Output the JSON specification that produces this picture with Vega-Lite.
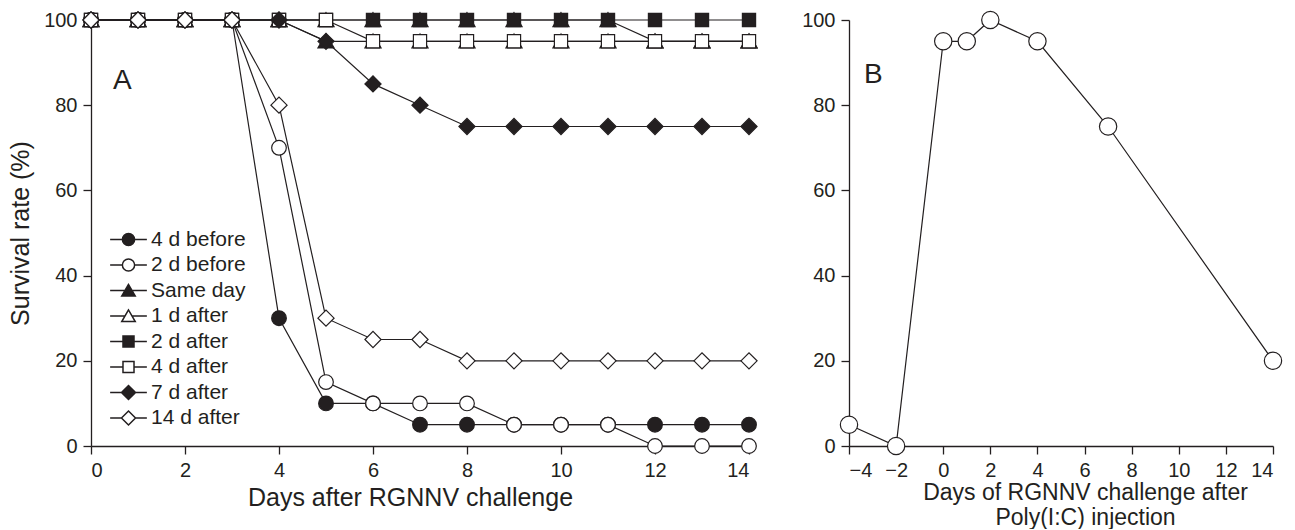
{
  "$schema": "https://vega.github.io/schema/vega-lite/v6.json",
  "background": "white",
  "padding": {"left": 8, "top": 8, "right": 5, "bottom": 0},
  "config": {
    "font": "Liberation Sans",
    "view": {"stroke": null},
    "axis": {
      "grid": false,
      "domainColor": "#231f20",
      "domainWidth": 1.3,
      "tickColor": "#231f20",
      "tickWidth": 1.3,
      "tickSize": 8,
      "labelFontSize": 20,
      "labelColor": "#231f20",
      "labelPadding": 6,
      "titleFontSize": 25,
      "titleFontWeight": "normal",
      "titleColor": "#231f20"
    },
    "title": {"fontSize": 28, "fontWeight": "normal", "color": "#231f20", "anchor": "start", "frame": "group", "baseline": "alphabetic", "offset": 0}
  },
  "datasets": {
    "a": [
      {"series": "4 d before", "day": 0, "survival": 100},
      {"series": "4 d before", "day": 1, "survival": 100},
      {"series": "4 d before", "day": 2, "survival": 100},
      {"series": "4 d before", "day": 3, "survival": 100},
      {"series": "4 d before", "day": 4, "survival": 30},
      {"series": "4 d before", "day": 5, "survival": 10},
      {"series": "4 d before", "day": 6, "survival": 10},
      {"series": "4 d before", "day": 7, "survival": 5},
      {"series": "4 d before", "day": 8, "survival": 5},
      {"series": "4 d before", "day": 9, "survival": 5},
      {"series": "4 d before", "day": 10, "survival": 5},
      {"series": "4 d before", "day": 11, "survival": 5},
      {"series": "4 d before", "day": 12, "survival": 5},
      {"series": "4 d before", "day": 13, "survival": 5},
      {"series": "4 d before", "day": 14, "survival": 5},
      {"series": "2 d before", "day": 0, "survival": 100},
      {"series": "2 d before", "day": 1, "survival": 100},
      {"series": "2 d before", "day": 2, "survival": 100},
      {"series": "2 d before", "day": 3, "survival": 100},
      {"series": "2 d before", "day": 4, "survival": 70},
      {"series": "2 d before", "day": 5, "survival": 15},
      {"series": "2 d before", "day": 6, "survival": 10},
      {"series": "2 d before", "day": 7, "survival": 10},
      {"series": "2 d before", "day": 8, "survival": 10},
      {"series": "2 d before", "day": 9, "survival": 5},
      {"series": "2 d before", "day": 10, "survival": 5},
      {"series": "2 d before", "day": 11, "survival": 5},
      {"series": "2 d before", "day": 12, "survival": 0},
      {"series": "2 d before", "day": 13, "survival": 0},
      {"series": "2 d before", "day": 14, "survival": 0},
      {"series": "Same day", "day": 0, "survival": 100},
      {"series": "Same day", "day": 1, "survival": 100},
      {"series": "Same day", "day": 2, "survival": 100},
      {"series": "Same day", "day": 3, "survival": 100},
      {"series": "Same day", "day": 4, "survival": 100},
      {"series": "Same day", "day": 5, "survival": 95},
      {"series": "Same day", "day": 6, "survival": 95},
      {"series": "Same day", "day": 7, "survival": 95},
      {"series": "Same day", "day": 8, "survival": 95},
      {"series": "Same day", "day": 9, "survival": 95},
      {"series": "Same day", "day": 10, "survival": 95},
      {"series": "Same day", "day": 11, "survival": 95},
      {"series": "Same day", "day": 12, "survival": 95},
      {"series": "Same day", "day": 13, "survival": 95},
      {"series": "Same day", "day": 14, "survival": 95},
      {"series": "1 d after", "day": 0, "survival": 100},
      {"series": "1 d after", "day": 1, "survival": 100},
      {"series": "1 d after", "day": 2, "survival": 100},
      {"series": "1 d after", "day": 3, "survival": 100},
      {"series": "1 d after", "day": 4, "survival": 100},
      {"series": "1 d after", "day": 5, "survival": 100},
      {"series": "1 d after", "day": 6, "survival": 100},
      {"series": "1 d after", "day": 7, "survival": 100},
      {"series": "1 d after", "day": 8, "survival": 100},
      {"series": "1 d after", "day": 9, "survival": 100},
      {"series": "1 d after", "day": 10, "survival": 100},
      {"series": "1 d after", "day": 11, "survival": 100},
      {"series": "1 d after", "day": 12, "survival": 95},
      {"series": "1 d after", "day": 13, "survival": 95},
      {"series": "1 d after", "day": 14, "survival": 95},
      {"series": "2 d after", "day": 0, "survival": 100},
      {"series": "2 d after", "day": 1, "survival": 100},
      {"series": "2 d after", "day": 2, "survival": 100},
      {"series": "2 d after", "day": 3, "survival": 100},
      {"series": "2 d after", "day": 4, "survival": 100},
      {"series": "2 d after", "day": 5, "survival": 100},
      {"series": "2 d after", "day": 6, "survival": 100},
      {"series": "2 d after", "day": 7, "survival": 100},
      {"series": "2 d after", "day": 8, "survival": 100},
      {"series": "2 d after", "day": 9, "survival": 100},
      {"series": "2 d after", "day": 10, "survival": 100},
      {"series": "2 d after", "day": 11, "survival": 100},
      {"series": "2 d after", "day": 12, "survival": 100},
      {"series": "2 d after", "day": 13, "survival": 100},
      {"series": "2 d after", "day": 14, "survival": 100},
      {"series": "4 d after", "day": 0, "survival": 100},
      {"series": "4 d after", "day": 1, "survival": 100},
      {"series": "4 d after", "day": 2, "survival": 100},
      {"series": "4 d after", "day": 3, "survival": 100},
      {"series": "4 d after", "day": 4, "survival": 100},
      {"series": "4 d after", "day": 5, "survival": 100},
      {"series": "4 d after", "day": 6, "survival": 95},
      {"series": "4 d after", "day": 7, "survival": 95},
      {"series": "4 d after", "day": 8, "survival": 95},
      {"series": "4 d after", "day": 9, "survival": 95},
      {"series": "4 d after", "day": 10, "survival": 95},
      {"series": "4 d after", "day": 11, "survival": 95},
      {"series": "4 d after", "day": 12, "survival": 95},
      {"series": "4 d after", "day": 13, "survival": 95},
      {"series": "4 d after", "day": 14, "survival": 95},
      {"series": "7 d after", "day": 0, "survival": 100},
      {"series": "7 d after", "day": 1, "survival": 100},
      {"series": "7 d after", "day": 2, "survival": 100},
      {"series": "7 d after", "day": 3, "survival": 100},
      {"series": "7 d after", "day": 4, "survival": 100},
      {"series": "7 d after", "day": 5, "survival": 95},
      {"series": "7 d after", "day": 6, "survival": 85},
      {"series": "7 d after", "day": 7, "survival": 80},
      {"series": "7 d after", "day": 8, "survival": 75},
      {"series": "7 d after", "day": 9, "survival": 75},
      {"series": "7 d after", "day": 10, "survival": 75},
      {"series": "7 d after", "day": 11, "survival": 75},
      {"series": "7 d after", "day": 12, "survival": 75},
      {"series": "7 d after", "day": 13, "survival": 75},
      {"series": "7 d after", "day": 14, "survival": 75},
      {"series": "14 d after", "day": 0, "survival": 100},
      {"series": "14 d after", "day": 1, "survival": 100},
      {"series": "14 d after", "day": 2, "survival": 100},
      {"series": "14 d after", "day": 3, "survival": 100},
      {"series": "14 d after", "day": 4, "survival": 80},
      {"series": "14 d after", "day": 5, "survival": 30},
      {"series": "14 d after", "day": 6, "survival": 25},
      {"series": "14 d after", "day": 7, "survival": 25},
      {"series": "14 d after", "day": 8, "survival": 20},
      {"series": "14 d after", "day": 9, "survival": 20},
      {"series": "14 d after", "day": 10, "survival": 20},
      {"series": "14 d after", "day": 11, "survival": 20},
      {"series": "14 d after", "day": 12, "survival": 20},
      {"series": "14 d after", "day": 13, "survival": 20},
      {"series": "14 d after", "day": 14, "survival": 20}
    ],
    "b": [
      {"day": -4, "survival": 5},
      {"day": -2, "survival": 0},
      {"day": 0, "survival": 95},
      {"day": 1, "survival": 95},
      {"day": 2, "survival": 100},
      {"day": 4, "survival": 95},
      {"day": 7, "survival": 75},
      {"day": 14, "survival": 20}
    ]
  },
  "spacing": 41,
  "hconcat": [
    {
      "width": 658,
      "height": 426,
      "title": {"text": "A", "dx": 22, "dy": 89},
      "data": {"name": "a"},
      "resolve": {
        "scale": {"shape": "independent", "fill": "independent"},
        "legend": {"shape": "independent", "fill": "independent"}
      },
      "layer": [
        {
          "mark": {"type": "line", "color": "#231f20", "strokeWidth": 1.2},
          "encoding": {
            "x": {"field": "day", "type": "quantitative", "scale": {"domain": [0, 14], "nice": false},
                  "axis": {"values": [0, 2, 4, 6, 8, 10, 12, 14], "title": "Days after RGNNV challenge", "titleX": 319, "titlePadding": 5}},
            "y": {"field": "survival", "type": "quantitative", "scale": {"domain": [0, 100], "nice": false},
                  "axis": {"values": [0, 20, 40, 60, 80, 100], "title": "Survival rate (%)", "titlePadding": 10}},
            "detail": {"field": "series"}
          }
        },
        {
          "mark": {"type": "point", "stroke": "#231f20", "strokeWidth": 1.2, "opacity": 1, "size": 215},
          "encoding": {
            "x": {"field": "day", "type": "quantitative"},
            "y": {"field": "survival", "type": "quantitative"},
            "shape": {
              "field": "series", "type": "nominal",
              "scale": {
                "domain": ["4 d before", "2 d before", "Same day", "1 d after", "2 d after", "4 d after", "7 d after", "14 d after"],
                "range": ["circle", "circle", "M0,-1L-1.1,0.9L1.1,0.9Z", "M0,-1L-1.1,0.9L1.1,0.9Z", "M-0.9,-0.9L0.9,-0.9L0.9,0.9L-0.9,0.9Z", "M-0.9,-0.9L0.9,-0.9L0.9,0.9L-0.9,0.9Z", "M-1.1,0L0,-1.1L1.1,0L0,1.1Z", "M-1.1,0L0,-1.1L1.1,0L0,1.1Z"]
              },
              "legend": null
            },
            "fill": {
              "field": "series", "type": "nominal",
              "scale": {
                "domain": ["4 d before", "2 d before", "Same day", "1 d after", "2 d after", "4 d after", "7 d after", "14 d after"],
                "range": ["#231f20", "white", "#231f20", "white", "#231f20", "white", "#231f20", "white"]
              },
              "legend": null
            }
          }
        },
        {
          "transform": [{"filter": "datum.day < 0"}],
          "mark": {"type": "point", "stroke": "#231f20", "strokeWidth": 1.2, "opacity": 1, "size": 150},
          "encoding": {
            "x": {"field": "day", "type": "quantitative"},
            "y": {"field": "survival", "type": "quantitative"},
            "shape": {
              "field": "series", "type": "nominal",
              "scale": {
                "domain": ["4 d before", "2 d before", "Same day", "1 d after", "2 d after", "4 d after", "7 d after", "14 d after"],
                "range": [
                  "M-1,0A1,1,0,1,1,1,0A1,1,0,1,1,-1,0ZM-3,0L-1,0M1,0L3,0",
                  "M-1,0A1,1,0,1,1,1,0A1,1,0,1,1,-1,0ZM-3,0L-1,0M1,0L3,0",
                  "M0,-1L-1.1,0.9L1.1,0.9ZM-3,0L-0.58,0M0.58,0L3,0",
                  "M0,-1L-1.1,0.9L1.1,0.9ZM-3,0L-0.58,0M0.58,0L3,0",
                  "M-0.9,-0.9L0.9,-0.9L0.9,0.9L-0.9,0.9ZM-3,0L-0.9,0M0.9,0L3,0",
                  "M-0.9,-0.9L0.9,-0.9L0.9,0.9L-0.9,0.9ZM-3,0L-0.9,0M0.9,0L3,0",
                  "M-1.15,0L0,-1.15L1.15,0L0,1.15ZM-3,0L-1.15,0M1.15,0L3,0",
                  "M-1.15,0L0,-1.15L1.15,0L0,1.15ZM-3,0L-1.15,0M1.15,0L3,0"
                ]
              },
              "legend": {
                "title": null,
                "orient": "none",
                "legendX": 27,
                "legendY": 209,
                "labelFontSize": 21,
                "labelColor": "#231f20",
                "labelOffset": 12,
                "rowPadding": 3.5,
                "symbolSize": 150
              }
            },
            "fill": {
              "field": "series", "type": "nominal",
              "scale": {
                "domain": ["4 d before", "2 d before", "Same day", "1 d after", "2 d after", "4 d after", "7 d after", "14 d after"],
                "range": ["#231f20", "white", "#231f20", "white", "#231f20", "white", "#231f20", "white"]
              }
            }
          }
        }
      ]
    },
    {
      "width": 424,
      "height": 426,
      "title": {"text": "B", "dx": 15, "dy": 84},
      "data": {"name": "b"},
      "layer": [
        {
          "mark": {"type": "line", "color": "#231f20", "strokeWidth": 1.2},
          "encoding": {
            "x": {"field": "day", "type": "quantitative", "scale": {"domain": [-4, 14], "nice": false},
                  "axis": {"values": [-4, -2, 0, 2, 4, 6, 8, 10, 12, 14], "title": ["Days of RGNNV challenge after", "Poly(I:C) injection"], "titleX": 236, "titlePadding": 1, "titleLineHeight": 25, "titleFontSize": 23}},
            "y": {"field": "survival", "type": "quantitative", "scale": {"domain": [0, 100], "nice": false},
                  "axis": {"values": [0, 20, 40, 60, 80, 100], "title": null}}
          }
        },
        {
          "mark": {"type": "point", "shape": "circle", "stroke": "#231f20", "strokeWidth": 1.2, "fill": "white", "filled": false, "opacity": 1, "size": 300},
          "encoding": {
            "x": {"field": "day", "type": "quantitative"},
            "y": {"field": "survival", "type": "quantitative"}
          }
        }
      ]
    }
  ]
}
